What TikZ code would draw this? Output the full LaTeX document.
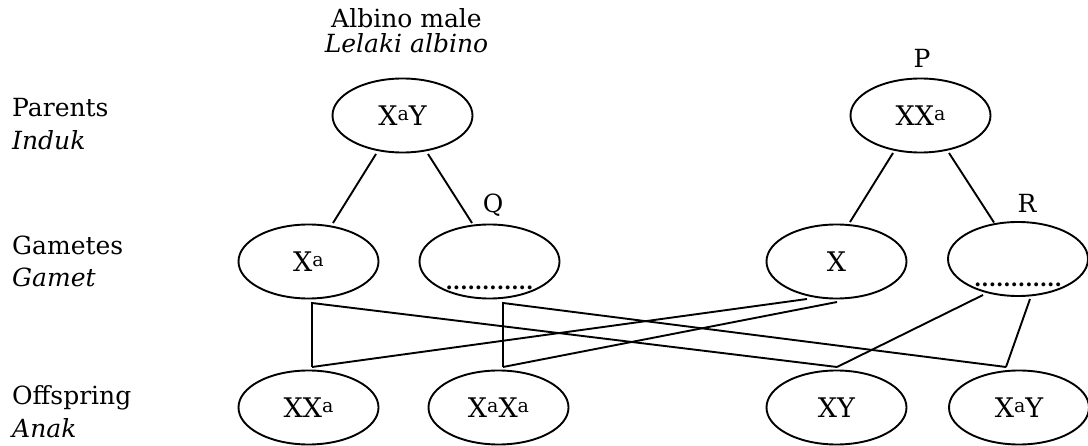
\documentclass[tikz,border=0pt]{standalone}
\usepackage{fontspec}
\setmainfont{DejaVu Serif}
\usetikzlibrary{shapes.geometric,calc}
% small raised allele letter
\newcommand\supa{\raisebox{0.18em}{\fontsize{19}{19}\selectfont a}}
% answer blank set low inside a gamete
\newcommand\blankline{\raisebox{-28pt}[0pt][0pt]{\fontsize{21}{21}\selectfont\bfseries ............}}
\begin{document}
\begin{tikzpicture}[x=1pt,y=-1pt,
  gene/.style={ellipse,draw,line width=1.9pt,minimum width=140pt,minimum height=74pt,
    inner sep=0pt,font=\fontsize{27}{30}\selectfont},
  lbl/.style={anchor=base west,inner sep=0pt,font=\fontsize{25}{28}\selectfont},
  ttl/.style={anchor=base,inner sep=0pt,font=\fontsize{25}{28}\selectfont},
  link/.style={line width=1.9pt,line join=miter}]
\useasboundingbox (0,0) rectangle (1088,446);

% row labels
\node[lbl] (lPar) at (12,117) {Parents};
\node[lbl] (lParI) at (12,150) {\itshape Induk};
\node[lbl] (lGam) at (12,255) {Gametes};
\node[lbl] (lGamI) at (12,287) {\itshape Gamet};
\node[lbl] (lOff) at (12,405) {Offspring};
\node[lbl] (lOffI) at (12,438) {\itshape Anak};

% titles
\node[ttl] (tA) at (406.5,28) {Albino male};
\node[ttl] (tB) at (406.5,53) {\itshape Lelaki albino};
\node[ttl] (tP) at (922,68) {P};
\node[ttl] (tQ) at (493,213) {Q};
\node[ttl] (tR) at (1027,213) {R};

% parents
\node[gene] (pM) at (402.5,115.5) {X\supa Y};
\node[gene] (pF) at (920.5,115.5) {XX\supa};

% gametes
\node[gene] (gXa) at (308.5,261.5) {X\supa};
\node[gene] (gQ)  at (489.5,261.5) {\blankline};
\node[gene] (gX)  at (836.5,261.5) {X};
\node[gene] (gR)  at (1018,259) {\blankline};

% offspring
\node[gene] (oXXa)  at (308.5,407.5) {XX\supa};
\node[gene] (oXaXa) at (498.5,407.5) {X\supa X\supa};
\node[gene] (oXY)   at (836.5,407.5) {XY};
\node[gene] (oXaY)  at (1019,407.5) {X\supa Y};

% parents to gametes
\draw[link] ($(pM.center)+(-26.5,38.5)$) -- ($(gXa.center)+(24.5,-38.5)$);
\draw[link] ($(pM.center)+(25.5,38.5)$) -- ($(gQ.center)+(-17.5,-38.5)$);
\draw[link] ($(pF.center)+(-27.5,37.5)$) -- ($(gX.center)+(13.5,-39.5)$);
\draw[link] ($(pF.center)+(28.5,37.5)$) -- ($(gR.center)+(-24,-36.5)$);

% crossing points
\coordinate (k1) at ($(gXa.center)+(3.5,41.5)$);
\coordinate (k2) at ($(gQ.center)+(13.5,41.5)$);
\coordinate (tXXa) at ($(oXXa.center)+(3.5,-40.5)$);
\coordinate (tXaXa) at ($(oXaXa.center)+(4.5,-40.5)$);
\coordinate (tXY) at ($(oXY.center)+(0.5,-40.5)$);
\coordinate (tXaY) at ($(oXaY.center)+(-13,-40.5)$);

% gametes to offspring
\draw[link] (tXXa) -- (k1) -- (tXY);
\draw[link] (tXaXa) -- (k2) -- (tXaY);
\draw[link] ($(gX.center)+(-29.5,37.5)$) -- (tXXa);
\draw[link] ($(gX.center)+(0.5,40.5)$) -- (tXaXa);
\draw[link] ($(gR.center)+(-35,36)$) -- (tXY);
\draw[link] ($(gR.center)+(12,40)$) -- (tXaY);
\end{tikzpicture}
\end{document}
